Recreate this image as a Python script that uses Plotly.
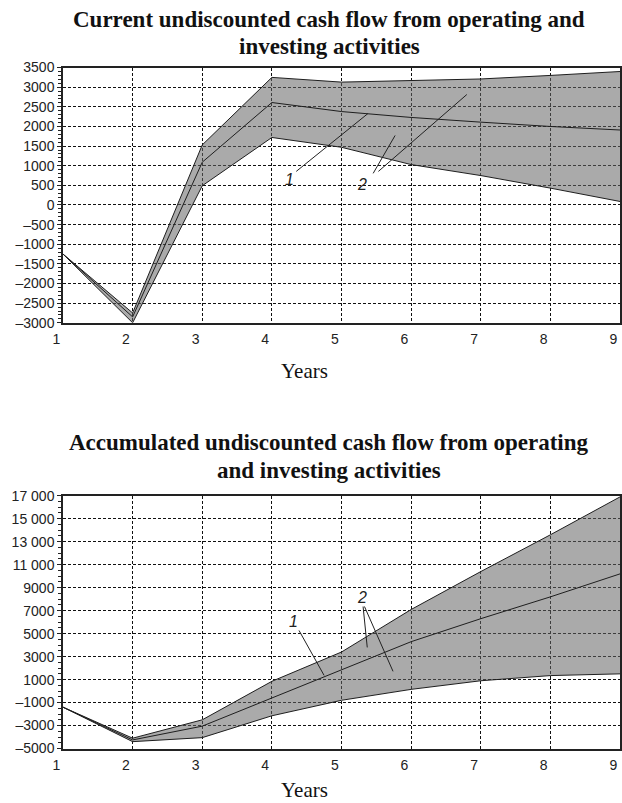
import plotly.graph_objects as go
from plotly.subplots import make_subplots

years = [1, 2, 3, 4, 5, 6, 7, 8, 9]

# current undiscounted cash flow (band bounds and middle line)
cur_upper = [-1250, -2750, 1530, 3250, 3130, 3170, 3210, 3300, 3400]
cur_mid = [-1250, -2850, 1090, 2610, 2380, 2230, 2110, 2000, 1910]
cur_lower = [-1250, -3000, 490, 1720, 1470, 1030, 750, 430, 90]

# accumulated undiscounted cash flow
acc_upper = [-1400, -4100, -2500, 850, 3400, 7100, 10400, 13600, 16900]
acc_mid = [-1400, -4250, -3050, -600, 1800, 4300, 6300, 8200, 10200]
acc_lower = [-1400, -4400, -4050, -2150, -800, 150, 900, 1350, 1500]

top_ticks = list(range(-3000, 3501, 500))
bot_ticks = list(range(-5000, 17001, 2000))

H = 803


def py(p):
    # page pixel (from top) -> paper fraction, corrected for the vertical
    # squeeze seen in the captured page
    return 1 - ((p - 6.3) / 0.982) / H


def fmt(v):
    s = str(abs(v)) if abs(v) < 10000 else "{:,}".format(abs(v)).replace(",", " ")
    return ("\u2013" + s) if v < 0 else s


LINE = dict(color="#1e1e1e", width=1)
FILL = "rgba(100,100,100,0.55)"
TICKFONT = dict(family="Liberation Sans, Arial", size=14, color="#222")

fig = make_subplots(rows=2, cols=1)

for row, (lo, mid, up) in enumerate([(cur_lower, cur_mid, cur_upper),
                                     (acc_lower, acc_mid, acc_upper)], start=1):
    fig.add_trace(go.Scatter(x=years, y=lo, mode="lines", line=LINE,
                             showlegend=False), row=row, col=1)
    fig.add_trace(go.Scatter(x=years, y=up, mode="lines", line=LINE,
                             fill="tonexty", fillcolor=FILL,
                             showlegend=False), row=row, col=1)
    fig.add_trace(go.Scatter(x=years, y=mid, mode="lines", line=LINE,
                             showlegend=False), row=row, col=1)

axis_common = dict(showline=True, mirror=True, linecolor="#222", linewidth=1.5,
                   showgrid=True, gridcolor="#111", gridwidth=1.3,
                   griddash="3px,2px", zeroline=False, tickfont=TICKFONT)

# year labels sit just left of their gridline, as in the original
fig.update_xaxes(range=[1, 9], tickvals=years, ticks="",
                 ticklabelposition="outside left", ticklabelshift=-2,
                 ticklabelstandoff=3, **axis_common)
fig.update_layout(
    xaxis=dict(domain=[0, 1]), xaxis2=dict(domain=[0, 1]),
    yaxis=dict(domain=[py(321.7), py(66)], range=[-3000, 3500],
               tickvals=top_ticks, ticktext=[fmt(v) for v in top_ticks],
               ticks="outside", ticklen=4, tickcolor="#222",
               minor=dict(ticks="outside", ticklen=3, dtick=100,
                          tickcolor="#222", showgrid=False),
               **axis_common),
    yaxis2=dict(domain=[py(748.3), py(495)], range=[-5000, 17000],
                tickvals=bot_ticks, ticktext=[fmt(v) for v in bot_ticks],
                ticks="outside", ticklen=4, tickcolor="#222",
                minor=dict(ticks="outside", ticklen=3, dtick=500,
                           tickcolor="#222", showgrid=False),
                **axis_common),
)

# leader lines for curve labels
leaders = [
    ("x", "y", 4.35, 856, 5.38, 2330),
    ("x", "y", 5.455, 806, 5.77, 1771),
    ("x", "y", 5.53, 856, 6.80, 2814),
    ("x2", "y2", 4.39, 5276, 4.75, 1368),
    ("x2", "y2", 5.31, 7360, 5.37, 3800),
    ("x2", "y2", 5.33, 7360, 5.74, 1716),
]
for xr, yr, x0, y0, x1, y1 in leaders:
    fig.add_shape(type="line", xref=xr, yref=yr, x0=x0, y0=y0, x1=x1, y1=y1,
                  line=dict(color="#222", width=1))

labels = [("x", "y", 4.25, 650, "1"), ("x", "y", 5.30, 530, "2"),
          ("x2", "y2", 4.31, 6060, "1"), ("x2", "y2", 5.30, 8140, "2")]
for xr, yr, x, y, t in labels:
    fig.add_annotation(xref=xr, yref=yr, x=x, y=y, text="<i>" + t + "</i>",
                       showarrow=False, font=dict(family="Liberation Sans",
                                                  size=16, color="#222"))

TITLEFONT = dict(family="Liberation Serif, Times New Roman", size=23, color="#111")
title_lines = [
    (18, "Current undiscounted cash flow from operating and"),
    (45, "investing activities"),
    (442, "Accumulated undiscounted cash flow from operating"),
    (470, "and investing activities"),
]
for ypx, t in title_lines:
    fig.add_annotation(xref="paper", yref="paper", x=0.478, y=py(ypx),
                       text="<b>" + t + "</b>", showarrow=False,
                       font=TITLEFONT, yanchor="middle")

YEARFONT = dict(family="Liberation Serif, Times New Roman", size=21, color="#111")
for ypx in (370, 790):
    fig.add_annotation(xref="paper", yref="paper", x=0.434, y=py(ypx),
                       text="Years", showarrow=False, font=YEARFONT,
                       yanchor="middle")

fig.update_layout(width=622, height=H, plot_bgcolor="white",
                  paper_bgcolor="white",
                  margin=dict(l=63, r=2, t=0, b=0))

# drop the default body margin so the figure sits at the page origin
fig.write_html("out.html", config={"displayModeBar": False},
               post_script="document.body.style.margin='0px';")
